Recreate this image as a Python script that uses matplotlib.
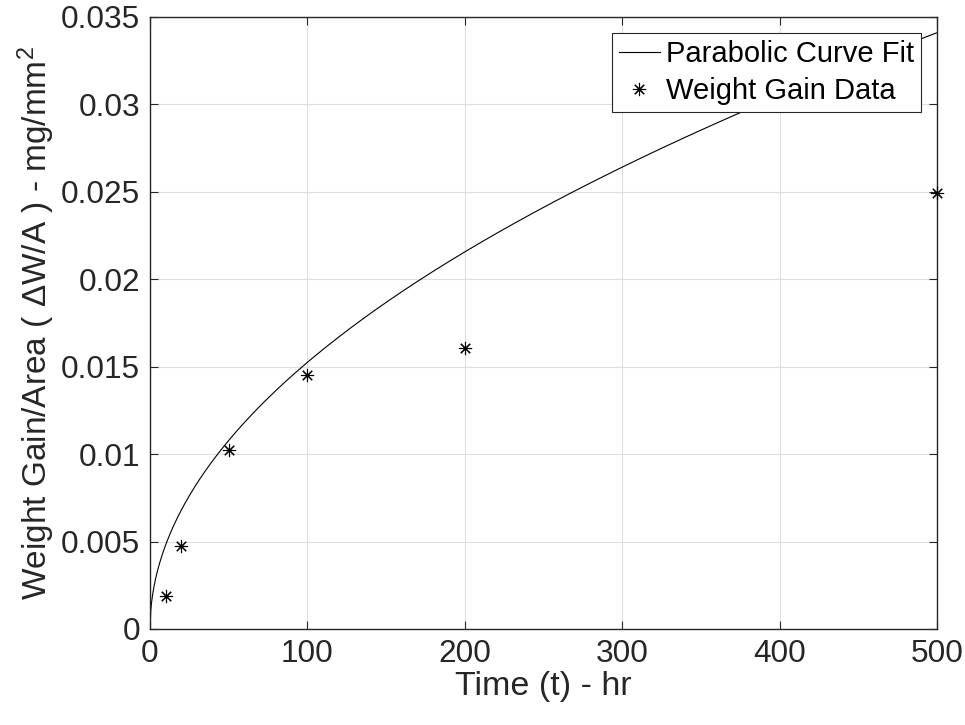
import numpy as np
import matplotlib
matplotlib.use("Agg")
import matplotlib.pyplot as plt

plt.rcParams['font.family'] = ['Liberation Sans', 'DejaVu Sans']
plt.rcParams['mathtext.fontset'] = 'custom'
plt.rcParams['mathtext.rm'] = 'Liberation Sans'
plt.rcParams['mathtext.it'] = 'Liberation Sans:italic'

# Measured weight gain per unit area
time_hr = [10, 20, 50, 100, 200, 500]
weight_gain = [0.0019, 0.00475, 0.01024, 0.01453, 0.01607, 0.02493]

# Parabolic rate law fit: dW/A = k * sqrt(t)
k_parabolic = 0.001525
t_fit_max = 500

x_ticks = [0, 100, 200, 300, 400, 500]
y_ticks = [0, 0.005, 0.01, 0.015, 0.02, 0.025, 0.03, 0.035]
y_tick_labels = ['0', '0.005', '0.01', '0.015', '0.02', '0.025', '0.03', '0.035']

dark = '#262626'

fig = plt.figure(figsize=(9.65, 7.25), dpi=100)
ax = fig.add_axes([150 / 965, 1 - 629 / 725, (937 - 150) / 965, (629 - 17) / 725])

t_fit = np.linspace(0, t_fit_max, 1000)
ax.plot(t_fit, k_parabolic * np.sqrt(t_fit), color='black', lw=0.8,
        label='Parabolic Curve Fit')
ax.plot(time_hr, weight_gain, linestyle='none', marker=(8, 2, 0), markersize=9.5,
        markeredgewidth=0.8, color='black', label='Weight Gain Data', clip_on=False,
        zorder=5)

ax.set_xlim(0, 500)
ax.set_ylim(0, 0.035)
ax.set_xticks(x_ticks)
ax.set_yticks(y_ticks)
ax.set_yticklabels(y_tick_labels)

ax.grid(True, color='#dfdfdf', lw=0.8)
ax.set_axisbelow(True)
for s in ax.spines.values():
    s.set_color(dark)
    s.set_linewidth(1.0)
ax.tick_params(direction='in', length=6, width=0.8, colors=dark, labelsize=22.7,
               top=True, right=True, pad=7)

ax.set_xlabel('Time (t) - hr', fontsize=24.5, color=dark, labelpad=2)
ax.set_ylabel('Weight Gain/Area ( $\\Delta$W/A ) - mg/mm$^2$', fontsize=24,
              color=dark, labelpad=3)

leg = ax.legend(loc='upper right', fontsize=21, frameon=True, fancybox=False,
                edgecolor=dark, framealpha=1, borderpad=0.25, labelspacing=0.3,
                handlelength=1.4, handletextpad=0.2, borderaxespad=0.55)
leg.get_frame().set_linewidth(0.8)

fig.savefig('out.png', dpi=100)
